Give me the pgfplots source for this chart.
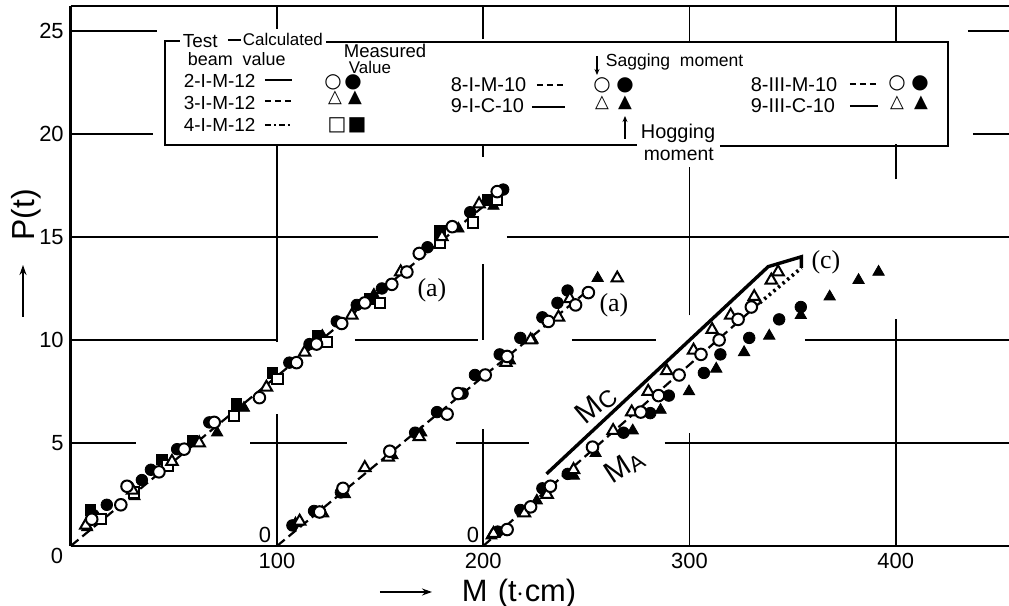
\documentclass[border=0pt]{standalone}
\usepackage{pgfplots}
\pgfplotsset{compat=1.18}
\usetikzlibrary{arrows.meta}
\usepackage{fontspec}
\setmainfont{Liberation Sans}
\newfontfamily\serif{Liberation Serif}
\newfontfamily\sym{DejaVu Sans}

\pgfplotsset{
  oc/.style={only marks, mark=*, mark size=2.9pt, mark options={fill=white, draw=black, line width=1bp}},
  fc/.style={only marks, mark=*, mark size=2.9pt, mark options={fill=black, draw=black}},
  ot/.style={only marks, mark=triangle*, mark size=3.3pt, mark options={fill=white, draw=black, line width=1bp}},
  ft/.style={only marks, mark=triangle*, mark size=3.3pt, mark options={fill=black, draw=black}},
  os/.style={only marks, mark=square*, mark size=2.6pt, mark options={fill=white, draw=black, line width=1bp}},
  fs/.style={only marks, mark=square*, mark size=2.6pt, mark options={fill=black, draw=black}},
}

\begin{document}
\begin{tikzpicture}
\begin{axis}[
  at={(35.35bp,-273bp)}, anchor=south west,
  scale only axis, width=469.2bp, height=269.9bp,
  xmin=0, xmax=455, ymin=0, ymax=26.2,
  axis lines=left, axis line style={-, line width=1.2bp},
  xtick={100,200,300,400}, ytick={5,10,15,20,25},
  major tick length=0pt,
  tick label style={font=\fontsize{11}{12}\selectfont},
  /pgf/number format/assume math mode=true,
  clip=false,
]
% partial grid lines
\begin{scope}[line width=0.9bp]
\draw (0,26.2) -- (455,26.2);
\draw (0,25) -- (41.8,25);   \draw (435,25) -- (455,25);
\draw (0,20) -- (39.9,20);   \draw (437.4,20) -- (455,20);
\draw (0,15) -- (149,15);    \draw (211.5,15) -- (455,15);
\draw (0,10) -- (100.5,10);  \draw (137.8,10) -- (197.4,10);
\draw (243,10) -- (284,10);  \draw (356,10) -- (455,10);
\draw (0,5) -- (31.7,5);     \draw (87,5) -- (134,5);
\draw (187,5) -- (222,5);    \draw (288,5) -- (455,5);
\draw (100,0) -- (100,6.4);  \draw (100,9.9) -- (100,19.5);  \draw (100,25.1) -- (100,26.2);
\draw (200,0) -- (200,5.7);  \draw (200,10) -- (200,13.7);   \draw (200,18.9) -- (200,19.5); \draw (200,24.6) -- (200,26.2);
\draw (300,0) -- (300,5.5);  \draw (300,11.2) -- (300,18.4); \draw (300,24.5) -- (300,26.2);
\draw (400,0) -- (400,11);   \draw (400,17.8) -- (400,19.5); \draw (400,24.5) -- (400,26.2);
\end{scope}

% calculated lines
\addplot[black, line width=1.1bp, dash pattern=on 5bp off 2.5bp] coordinates {(0,0) (210,17.3)};
\addplot[black, line width=1.1bp, dash pattern=on 5bp off 2.5bp] coordinates {(100,0) (252,12.5)};
\addplot[black, line width=1.1bp, dash pattern=on 5bp off 2.5bp] coordinates {(200,0) (334.1,11.8)};
\addplot[black, line width=1.8bp, dash pattern=on 1.2bp off 1.8bp] coordinates {(334.1,11.8) (354.3,13.5)};
\addplot[black, line width=1.7bp] coordinates {(230.7,3.5) (338.2,13.56) (354.3,14.04) (354.3,13.5)};

% group (a), beams 2-, 3-, 4-I-M-12
\addplot[fs] coordinates {(9.7,1.75) (44.3,4.2) (59,5.1) (80.3,6.9) (97.8,8.4) (119.7,10.2) (145,12.0) (179,15.3) (202,16.8)};
\addplot[fc] coordinates {(11,1.5) (17.5,2.0) (34.5,3.2) (38.9,3.7) (51.6,4.7) (67.2,6.0) (106,8.9) (115.8,9.8) (129,10.9) (138.7,11.7) (150.9,12.5) (173,14.5) (193.7,16.2) (209.7,17.3)};
\addplot[ft] coordinates {(8,0.9) (31,2.4) (46,3.9) (71,5.5) (84,6.7) (122,10.2) (147,12.2) (188,15.4) (205,16.5)};
\addplot[os] coordinates {(14.6,1.3) (30.7,2.6) (47,3.9) (79.3,6.3) (100.2,8.1) (124,9.9) (149.9,11.8) (179,14.7) (195,15.7) (206.8,16.8)};
\addplot[ot] coordinates {(7.3,1.0) (30,2.7) (49.1,4.1) (62.3,5.0) (94.9,7.7) (113.4,9.4) (136.3,11.2) (160,13.3) (180,15.0) (198,16.6)};
\addplot[oc] coordinates {(10.2,1.3) (24.3,2.0) (27.3,2.9) (42.8,3.6) (55,4.7) (69.6,6.0) (91.5,7.2) (109.5,8.9) (119.2,9.8) (131.4,10.8) (142.6,11.8) (155.7,12.7) (163,13.3) (169,14.2) (185,15.5) (206.8,17.2)};

% group (a), beams 8-, 9-I
\addplot[fc] coordinates {(107.5,1.0) (118,1.7) (131,2.6) (167,5.5) (177.6,6.5) (190,7.4) (196,8.3) (208,9.3) (218,10.1) (228.7,11.1) (236,11.8) (240.9,12.4)};
\addplot[ft] coordinates {(109,1.1) (133,2.5) (156,4.4) (170,5.5) (213,9.0) (224,10.0) (255.5,13.0)};
\addplot[ot] coordinates {(111,1.2) (122,1.6) (142.6,3.8) (154,4.3) (169,5.3) (211,8.9) (223,10.0) (236.5,11.1) (242,12.0) (265,13.0)};
\addplot[oc] coordinates {(120.7,1.65) (132,2.8) (154.7,4.6) (182.5,6.4) (187.8,7.4) (201,8.3) (211.6,9.2) (231.6,10.9) (244.8,11.7) (251,12.3)};

% group (c), beams 8-, 9-III
\addplot[fc] coordinates {(207,0.7) (218,1.75) (228.7,2.8) (241,3.5) (268,5.5) (281,6.45) (290,7.3) (307,8.4) (315,9.3) (329,10.1) (343.5,11.0) (354,11.6)};
\addplot[ft] coordinates {(204,0.5) (226,2.2) (244,3.4) (254.5,4.5) (272.5,5.6) (286,6.6) (299.8,7.5) (313,8.6) (326.5,9.4) (338.7,10.2) (354,11.2) (368,12.1) (382,12.9) (391.7,13.3)};
\addplot[ot] coordinates {(205,0.6) (220,1.6) (231,2.5) (243.8,3.7) (263,5.6) (272,6.5) (280,7.5) (289,8.5) (302,9.5) (311,10.5) (320,11.2) (331.4,12.1) (339.7,12.9) (343,13.3)};
\addplot[oc] coordinates {(211.6,0.8) (223,1.9) (232.6,2.9) (253,4.8) (276.4,6.5) (285,7.3) (295,8.3) (305.6,9.3) (314.4,10.0) (323.6,11.0) (330,11.6)};
\end{axis}

\begin{scope}[x=0.5bp, y=-0.5bp, line width=0.9bp]
% origin labels
\node[font=\fontsize{11}{12}\selectfont] at (57,556) {0};
\node[font=\fontsize{11}{12}\selectfont] at (265,535) {0};
\node[font=\fontsize{11}{12}\selectfont] at (473,535) {0};
% curve labels
\node[font=\serif\fontsize{13}{14}\selectfont] at (432,290) {(a)};
\node[font=\serif\fontsize{13}{14}\selectfont] at (614,305) {(a)};
\node[font=\serif\fontsize{13}{14}\selectfont] at (826,262) {(c)};
\node[rotate=40, inner sep=0, font=\fontsize{15}{16}\selectfont] at (596,405) {M\raisebox{-1.5bp}{\fontsize{12}{12}\selectfont C}};
\node[rotate=33, inner sep=0, font=\fontsize{15}{16}\selectfont] at (624,466) {M\raisebox{-1.5bp}{\fontsize{11}{11}\selectfont A}};
% axis titles
\node[anchor=base west, inner sep=0, font=\fontsize{15.5}{16}\selectfont] at (461,602) {M\,\,(t$\cdot$cm)};
\draw[-{Stealth[length=5bp,width=3.5bp]}] (380,592) -- (432,592);
\node[rotate=90, font=\fontsize{16}{17}\selectfont] at (26,215) {P(t)};
\draw[-{Stealth[length=5bp,width=3.5bp]}] (23,317) -- (23,265);
% legend box
\draw (180,41) -- (165,41) -- (165,145) -- (637,145);
\draw (720,146) -- (948,146) -- (948,42) -- (326,42);
\draw (228,40) -- (241,40);
\node[anchor=base west, inner sep=0, font=\fontsize{9.5}{10}\selectfont] at (182,47) {Test};
\node[anchor=base west, inner sep=0, font=\fontsize{8.5}{9}\selectfont] at (242,45) {Calculated};
\node[anchor=base west, inner sep=0, font=\fontsize{9}{10}\selectfont] at (187,65) {beam\ \ value};
\node[anchor=base west, inner sep=0, font=\fontsize{9.3}{10}\selectfont] at (343,57) {Measured};
\node[anchor=base west, inner sep=0, font=\fontsize{8.5}{10}\selectfont] at (348,74) {Value};
\node[anchor=base west, inner sep=0, font=\fontsize{9.5}{10}\selectfont] at (183,88) {2-I-M-12};
\node[anchor=base west, inner sep=0, font=\fontsize{9.5}{10}\selectfont] at (183,110) {3-I-M-12};
\node[anchor=base west, inner sep=0, font=\fontsize{9.5}{10}\selectfont] at (183,132) {4-I-M-12};
\draw (265,80) -- (292,80);
\draw[dash pattern=on 3bp off 2bp] (265,101) -- (292,101);
\draw[dash pattern=on 3bp off 1.5bp on 1bp off 1.5bp] (265,125) -- (292,125);
\node[font=\sym\fontsize{10}{10}\selectfont] at (333,82) {○};
\node[font=\sym\fontsize{10}{10}\selectfont] at (353,82) {●};
\node[font=\sym\fontsize{9}{10}\selectfont] at (335,98) {△};
\node[font=\sym\fontsize{9}{10}\selectfont] at (355,98) {▲};
\node[font=\sym\fontsize{10}{10}\selectfont] at (337,125) {□};
\node[font=\sym\fontsize{10}{10}\selectfont] at (357,125) {■};
\node[anchor=base west, inner sep=0, font=\fontsize{10}{10}\selectfont] at (450,92) {8-I-M-10};
\node[anchor=base west, inner sep=0, font=\fontsize{10}{10}\selectfont] at (450,113) {9-I-C-10};
\draw[dash pattern=on 3bp off 2bp] (537,85) -- (563,85);
\draw (532,107) -- (565,107);
\node[font=\sym\fontsize{10}{10}\selectfont] at (602,85) {○};
\node[font=\sym\fontsize{10}{10}\selectfont] at (625,85) {●};
\node[font=\sym\fontsize{9}{10}\selectfont] at (602,103) {△};
\node[font=\sym\fontsize{9}{10}\selectfont] at (625,103) {▲};
\draw[-{Stealth[length=3bp,width=2.5bp]}] (597,56) -- (597,75);
\node[anchor=base west, inner sep=0, font=\fontsize{8.8}{10}\selectfont] at (605,66) {Sagging\ \ moment};
\draw[-{Stealth[length=3bp,width=2.5bp]}] (625,139) -- (625,116);
\node[anchor=base west, inner sep=0, font=\fontsize{10}{10}\selectfont] at (640,139) {Hogging};
\node[anchor=base west, inner sep=0, font=\fontsize{9.7}{10}\selectfont] at (643,161) {moment};
\node[anchor=base west, inner sep=0, font=\fontsize{10}{10}\selectfont] at (750,92) {8-III-M-10};
\node[anchor=base west, inner sep=0, font=\fontsize{10}{10}\selectfont] at (750,113) {9-III-C-10};
\draw[dash pattern=on 3bp off 2bp] (850,84) -- (878,84);
\draw (850,106) -- (878,106);
\node[font=\sym\fontsize{10}{10}\selectfont] at (897,83) {○};
\node[font=\sym\fontsize{10}{10}\selectfont] at (920,83) {●};
\node[font=\sym\fontsize{9}{10}\selectfont] at (897,103) {△};
\node[font=\sym\fontsize{9}{10}\selectfont] at (921,103) {▲};
\end{scope}
\pgfresetboundingbox
\path[use as bounding box] (0,0) rectangle (504.5bp,-303bp);
\end{tikzpicture}
\end{document}
